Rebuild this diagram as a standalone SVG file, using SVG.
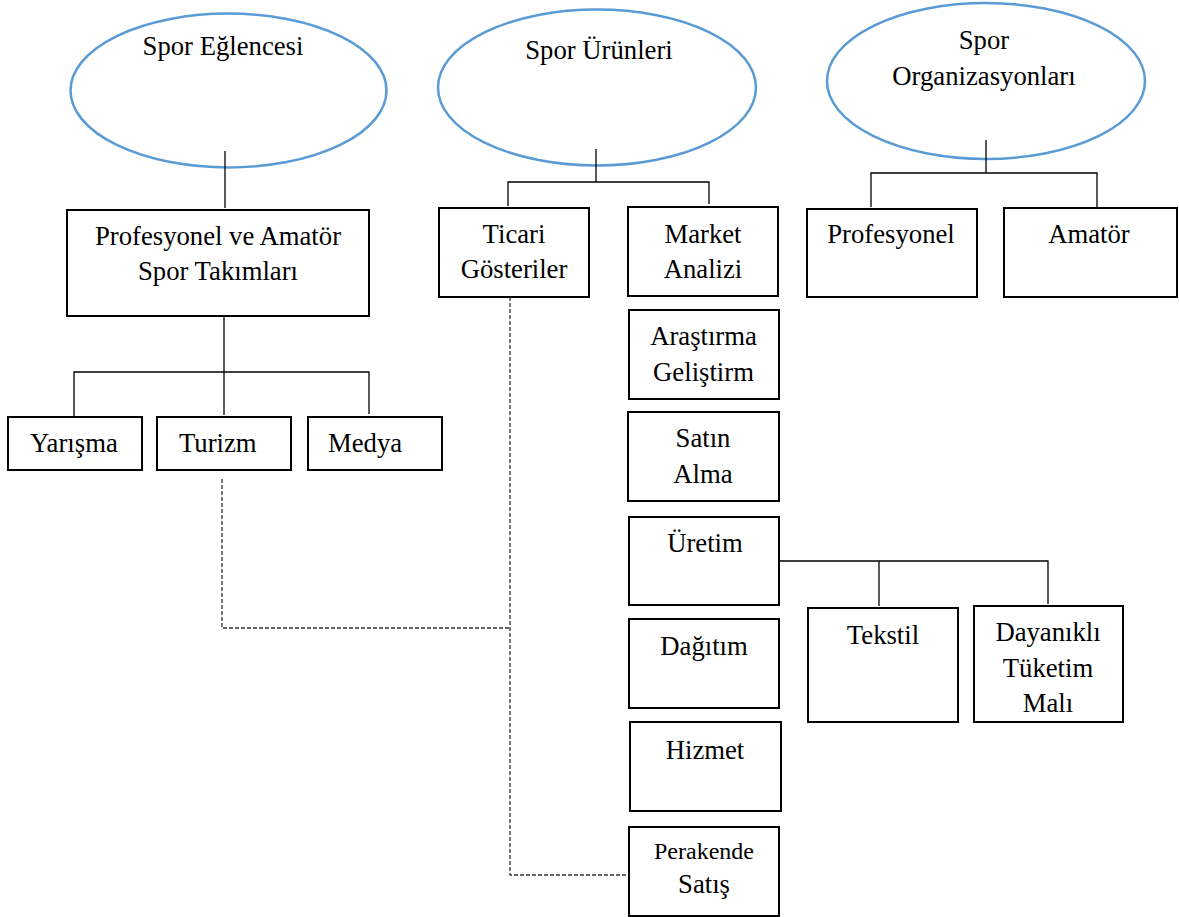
<svg xmlns="http://www.w3.org/2000/svg" width="1179" height="917" viewBox="0 0 1179 917">
<style>
.ell{fill:#fff;stroke:#5B9BD5;stroke-width:2.5}
.box{fill:#fff;stroke:#000;stroke-width:2}
.t{font-family:'Liberation Serif','DejaVu Serif',serif;font-size:26.7px;fill:#000;text-anchor:middle}
.ts{text-anchor:start}
.c{fill:none;stroke:#000;stroke-width:1.3}
.d{fill:none;stroke:#333;stroke-width:1.3;stroke-dasharray:4 2}
</style>
<rect width="1179" height="917" fill="#fff"/>
<g id="n-spor-eglencesi"><ellipse class="ell" cx="228.5" cy="90.5" rx="158" ry="77"/><text class="t" x="223" y="55">Spor Eğlencesi</text></g>
<g id="n-spor-urunleri"><ellipse class="ell" cx="597" cy="87.5" rx="159" ry="78"/><text class="t" x="599" y="59">Spor Ürünleri</text></g>
<g id="n-spor-organizasyonlari"><ellipse class="ell" cx="986" cy="81" rx="159" ry="78"/><text class="t" x="984" y="49">Spor</text><text class="t" x="984" y="85">Organizasyonları</text></g>
<g id="connectors">
<path class="c" d="M225 151V208"/>
<path class="c" d="M224 316V415M74 416V372H369V414"/>
<path class="c" d="M596 149V182M508 206V182H709V204"/>
<path class="c" d="M986 140V173M871 207V173H1097V207"/>
<path class="c" d="M779 561H1048V604M879 561V606"/>
<path class="d" d="M222 479V628H510"/>
<path class="d" d="M510 297V875H629"/>
</g>
<g id="n-pro-amator"><rect class="box" x="67" y="210" width="302" height="106"/><text class="t" x="218" y="245">Profesyonel ve Amatör</text><text class="t" x="218" y="280">Spor Takımları</text></g>
<g id="n-yarisma"><rect class="box" x="8" y="417" width="134" height="53"/><text class="t ts" x="30" y="452">Yarışma</text></g>
<g id="n-turizm"><rect class="box" x="157" y="417" width="134" height="53"/><text class="t ts" x="179" y="452">Turizm</text></g>
<g id="n-medya"><rect class="box" x="308" y="417" width="134" height="53"/><text class="t ts" x="328" y="452">Medya</text></g>
<g id="n-ticari"><rect class="box" x="439" y="208" width="150" height="89"/><text class="t" x="514" y="243">Ticari</text><text class="t" x="514" y="278">Gösteriler</text></g>
<g id="n-market"><rect class="box" x="628" y="207" width="150" height="89"/><text class="t" x="703" y="243">Market</text><text class="t" x="703" y="278">Analizi</text></g>
<g id="n-arastirma"><rect class="box" x="629" y="310" width="150" height="89"/><text class="t" x="703.5" y="345">Araştırma</text><text class="t" x="703.5" y="381">Geliştirm</text></g>
<g id="n-satin"><rect class="box" x="628" y="412" width="151" height="89"/><text class="t" x="703" y="447">Satın</text><text class="t" x="703" y="483">Alma</text></g>
<g id="n-uretim"><rect class="box" x="629" y="517" width="150" height="88"/><text class="t" x="705" y="552">Üretim</text></g>
<g id="n-dagitim"><rect class="box" x="629" y="619" width="150" height="89"/><text class="t" x="704" y="655">Dağıtım</text></g>
<g id="n-hizmet"><rect class="box" x="630" y="722" width="151" height="89"/><text class="t" x="705" y="759">Hizmet</text></g>
<g id="n-perakende"><rect class="box" x="629" y="827" width="150" height="89"/><text class="t" x="704" y="859" style="font-size:24px">Perakende</text><text class="t" x="704" y="893">Satış</text></g>
<g id="n-tekstil"><rect class="box" x="808" y="608" width="150" height="114"/><text class="t" x="883" y="644">Tekstil</text></g>
<g id="n-dayanikli"><rect class="box" x="974" y="606" width="149" height="116"/><text class="t" x="1048" y="641">Dayanıklı</text><text class="t" x="1048" y="677">Tüketim</text><text class="t" x="1048" y="712">Malı</text></g>
<g id="n-profesyonel"><rect class="box" x="807" y="209" width="170" height="88"/><text class="t" x="891" y="243">Profesyonel</text></g>
<g id="n-amator"><rect class="box" x="1004" y="208" width="173" height="89"/><text class="t" x="1089" y="243">Amatör</text></g>
</svg>
